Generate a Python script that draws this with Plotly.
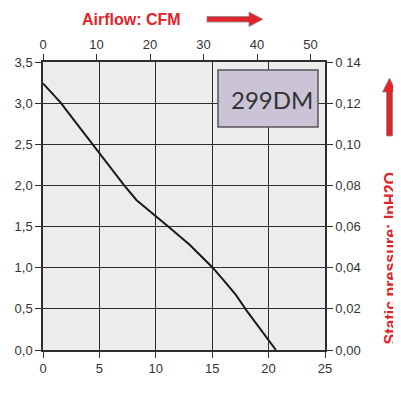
import plotly.graph_objects as go

# Data: bottom axis l/s, left axis mmH2O
flow = [0, 1.6, 2.1, 3.5, 5.0, 5.85, 7.2, 8.3, 10.0, 11.1, 13.0, 15.05, 16.0, 17.1, 18.1, 20.0, 20.65]
pressure = [3.24, 3.0, 2.91, 2.66, 2.39, 2.25, 2.0, 1.82, 1.62, 1.5, 1.28, 1.0, 0.85, 0.67, 0.47, 0.12, 0.0]

left_ticks = [0, 0.5, 1.0, 1.5, 2.0, 2.5, 3.0, 3.5]
left_labels = ["0,0", "0,5", "1,0", "1,5", "2,0", "2,5", "3,0", "3,5"]
right_ticks = [0, 0.02, 0.04, 0.06, 0.08, 0.10, 0.12, 0.14]
right_labels = ["0,00", "0,02", "0,04", "0,06", "0,08", "0,10", "0,12", "0 14"]
bottom_ticks = [0, 5, 10, 15, 20, 25]
top_ticks = [0, 10, 20, 30, 40, 50]

# page has an 8px body margin; compensate so the plot lands where the reference has it
OFF = 8
W, H = 401 - OFF, 415 - OFF
L, R, T, B = 43 - OFF, 76, 62 - OFF, 65
PW, PH = W - L - R, H - T - B

def px(x):
    return (x - 43) / PW

def py(y):
    return (350 - y) / PH

def path(pts):
    s = "M " + " L ".join(f"{px(a):.5f},{py(b):.5f}" for a, b in pts) + " Z"
    return s

red = "#e3232b"
grid = "#2e2e2e"
tfont = dict(family="Liberation Sans, Arial", size=13, color="#333333")

fig = go.Figure()
fig.add_trace(go.Scatter(x=flow, y=pressure, mode="lines",
                         line=dict(color="#1a1a1a", width=2), showlegend=False))
# invisible traces to activate secondary axes
fig.add_trace(go.Scatter(x=[0], y=[0], xaxis="x2", yaxis="y", mode="markers",
                         marker=dict(opacity=0), showlegend=False, hoverinfo="skip"))
fig.add_trace(go.Scatter(x=[0], y=[0], xaxis="x", yaxis="y2", mode="markers",
                         marker=dict(opacity=0), showlegend=False, hoverinfo="skip"))

fig.update_layout(
    width=W, height=H,
    margin=dict(l=L, r=R, t=T, b=B, autoexpand=False),
    paper_bgcolor="white", plot_bgcolor="#ececec",
    xaxis=dict(range=[0, 25], tickvals=bottom_ticks, ticktext=[str(v) for v in bottom_ticks],
               showgrid=True, gridcolor=grid, gridwidth=1.2, automargin=False,
               showline=True, linecolor=grid, linewidth=1.5,
               ticks="outside", ticklen=6, tickcolor=grid, tickfont=tfont, zeroline=False),
    xaxis2=dict(range=[0, 52.7], overlaying="x", side="top", tickvals=top_ticks,
                showgrid=False, showline=True, linecolor=grid, linewidth=1.5, automargin=False,
                ticks="outside", ticklen=6, tickcolor=grid, tickfont=tfont, zeroline=False),
    yaxis=dict(range=[0, 3.5], tickvals=left_ticks, ticktext=left_labels,
               showgrid=True, gridcolor=grid, gridwidth=1.2, automargin=False,
               showline=True, linecolor=grid, linewidth=1.5,
               ticks="outside", ticklen=6, tickcolor=grid, tickfont=tfont, zeroline=False),
    yaxis2=dict(range=[0, 0.14], overlaying="y", side="right", tickvals=right_ticks,
                ticktext=right_labels, showgrid=False, automargin=False,
                showline=True, linecolor=grid, linewidth=1.5,
                ticks="outside", ticklen=6, tickcolor=grid, tickfont=tfont, zeroline=False),
    shapes=[
        dict(type="rect", xref="paper", yref="paper", x0=px(218), x1=px(318), y0=py(127), y1=py(70),
             fillcolor="#cbc3d6", line=dict(color="#555555", width=1.5), layer="above"),
        dict(type="path", xref="paper", yref="paper",
             path=path([(207, 16.5), (249, 16.5), (249, 12), (263, 19.3), (249, 26.6), (249, 22), (207, 22)]),
             fillcolor=red, line=dict(color="#8a8a8a", width=0.8)),
        dict(type="path", xref="paper", yref="paper",
             path=path([(386.5, 136), (386.5, 92), (382.5, 92), (389.5, 78), (396.5, 92), (392.5, 92), (392.5, 136)]),
             fillcolor=red, line=dict(color="#8a8a8a", width=0.8)),
    ],
    annotations=[
        dict(xref="paper", yref="paper", x=px(271.5), y=py(99), text="299DM", showarrow=False,
             font=dict(family="Lato, Noto Sans", size=24, color="#333333"),
             xanchor="center", yanchor="middle"),
        dict(xref="paper", yref="paper", x=px(131.5), y=py(19.5), text="<b>Airflow: CFM</b>", showarrow=False,
             font=dict(family="Liberation Sans, Arial", size=16, color=red),
             xanchor="center", yanchor="middle"),
        dict(xref="paper", yref="paper", x=px(389.5), y=py(258), text="<b>Static pressure: InH2O</b>",
             showarrow=False, textangle=-90,
             font=dict(family="Liberation Sans, Arial", size=16, color=red),
             xanchor="center", yanchor="middle"),
    ],
)

fig.write_html("out.html")
